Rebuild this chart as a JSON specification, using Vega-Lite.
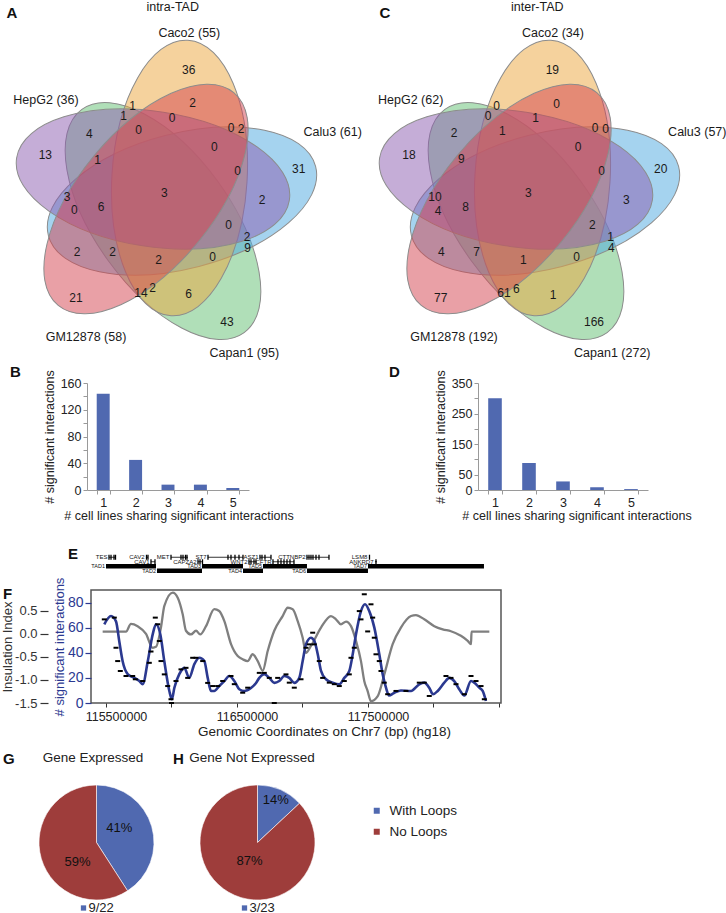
{
"$schema": "https://vega.github.io/schema/vega-lite/v6.json",
"background": "white",
"padding": 0,
"bounds": "full",
"spacing": 0,
"config": {
  "font": "Liberation Sans",
  "view": {"stroke": null},
  "axis": {"grid": false, "labelFont": "Liberation Sans", "titleFont": "Liberation Sans", "titleFontWeight": "normal", "labelColor": "#222", "titleColor": "#222", "domainColor": "#9a9a9a", "tickColor": "#9a9a9a"},
  "title": {"font": "Liberation Sans"},
  "legend": {"labelFont": "Liberation Sans"}
},
"resolve": {"scale": {"color": "independent", "fill": "independent"}},
"datasets": {
  "vennSets": [
    {"set": "Capan1", "x": 162, "y": 221, "rot": 54},
    {"set": "Calu3", "x": 181, "y": 201, "rot": 345.5},
    {"set": "Caco2", "x": 178.5, "y": 178, "rot": 273.5},
    {"set": "HepG2", "x": 152, "y": 179, "rot": 8.8},
    {"set": "GM12878", "x": 145, "y": 199, "rot": 309.5}
  ],
  "vennNumA": [
    {"x": 187.7, "y": 70, "n": 36}, {"x": 191.7, "y": 103.3, "n": 2}, {"x": 131.7, "y": 106, "n": 1}, {"x": 122.7, "y": 116, "n": 1},
    {"x": 171, "y": 118.3, "n": 0}, {"x": 137.7, "y": 130, "n": 0}, {"x": 230, "y": 128.3, "n": 0}, {"x": 240, "y": 129.3, "n": 2},
    {"x": 88.3, "y": 134.3, "n": 4}, {"x": 44.3, "y": 155, "n": 13}, {"x": 213.3, "y": 146.7, "n": 0}, {"x": 96.7, "y": 160, "n": 1},
    {"x": 297.7, "y": 169.3, "n": 31}, {"x": 236.7, "y": 171, "n": 0}, {"x": 66, "y": 197.3, "n": 3}, {"x": 163.3, "y": 192.7, "n": 3},
    {"x": 73.3, "y": 210, "n": 0}, {"x": 100, "y": 206.7, "n": 6}, {"x": 261, "y": 200, "n": 2}, {"x": 227.7, "y": 225, "n": 0},
    {"x": 246, "y": 237.3, "n": 2}, {"x": 246.7, "y": 248.3, "n": 9}, {"x": 76, "y": 251.7, "n": 2}, {"x": 111.7, "y": 251.7, "n": 2},
    {"x": 157.7, "y": 260, "n": 2}, {"x": 211.7, "y": 256.7, "n": 0}, {"x": 75, "y": 297.7, "n": 21}, {"x": 140, "y": 293.3, "n": 14},
    {"x": 151.7, "y": 288.3, "n": 2}, {"x": 187.7, "y": 294.3, "n": 6}, {"x": 226, "y": 321.7, "n": 43}
  ],
  "vennNumC": [
    {"x": 188.3, "y": 70, "n": 19}, {"x": 192.7, "y": 104, "n": 0}, {"x": 132.7, "y": 106, "n": 0}, {"x": 124, "y": 116, "n": 0},
    {"x": 171.7, "y": 118.3, "n": 1}, {"x": 138.3, "y": 130.7, "n": 1}, {"x": 231, "y": 128.3, "n": 0}, {"x": 241.7, "y": 129.3, "n": 0},
    {"x": 90, "y": 133.3, "n": 2}, {"x": 45, "y": 155, "n": 18}, {"x": 214, "y": 146.7, "n": 0}, {"x": 97.3, "y": 159.3, "n": 9},
    {"x": 296.7, "y": 169.3, "n": 20}, {"x": 237.7, "y": 170.7, "n": 0}, {"x": 71, "y": 196.7, "n": 10}, {"x": 164.3, "y": 192.7, "n": 3},
    {"x": 74, "y": 210.7, "n": 4}, {"x": 101.7, "y": 206.7, "n": 8}, {"x": 262.3, "y": 200, "n": 3}, {"x": 228.3, "y": 225, "n": 2},
    {"x": 246.7, "y": 237.3, "n": 1}, {"x": 247.3, "y": 248.3, "n": 4}, {"x": 77.3, "y": 251.7, "n": 4}, {"x": 112.7, "y": 252.3, "n": 7},
    {"x": 159.3, "y": 260, "n": 1}, {"x": 212.7, "y": 256.7, "n": 0}, {"x": 76.7, "y": 297.7, "n": 77}, {"x": 140, "y": 293.3, "n": 61},
    {"x": 152.3, "y": 289, "n": 6}, {"x": 189, "y": 295, "n": 1}, {"x": 230, "y": 321.7, "n": 166}
  ],
  "vennLabA": [
    {"x": 171.7, "y": 6.7, "label": "intra-TAD"}, {"x": 188.3, "y": 33.3, "label": "Caco2 (55)"}, {"x": 45, "y": 100, "label": "HepG2 (36)"},
    {"x": 331.7, "y": 131.7, "label": "Calu3 (61)"}, {"x": 85, "y": 336.7, "label": "GM12878 (58)"}, {"x": 243.3, "y": 353.3, "label": "Capan1 (95)"}
  ],
  "vennLabC": [
    {"x": 173.3, "y": 6.7, "label": "inter-TAD"}, {"x": 189, "y": 33.3, "label": "Caco2 (34)"}, {"x": 46.7, "y": 100, "label": "HepG2 (62)"},
    {"x": 333.3, "y": 131.7, "label": "Calu3 (57)"}, {"x": 90, "y": 336.7, "label": "GM12878 (192)"}, {"x": 248.3, "y": 353.3, "label": "Capan1 (272)"}
  ],
  "letterA": [{"x": 11, "y": 13.3, "letter": "A"}],
  "letterC": [{"x": 21, "y": 13.3, "letter": "C"}],
  "barsB": [{"k": 1, "n": 144}, {"k": 2, "n": 45}, {"k": 3, "n": 8}, {"k": 4, "n": 8}, {"k": 5, "n": 3}],
  "barsD": [{"k": 1, "n": 300}, {"k": 2, "n": 88}, {"k": 3, "n": 28}, {"k": 4, "n": 9}, {"k": 5, "n": 3}],
  "genes": [
    {"name": "TES", "start": 115522900, "end": 115576300, "lane": "g1"},
    {"name": "CAV2", "start": 115805300, "end": 115820600, "lane": "g1"},
    {"name": "MET", "start": 115996200, "end": 116126000, "lane": "g1"},
    {"name": "ST7", "start": 116278600, "end": 116545800, "lane": "g1"},
    {"name": "ASZ1", "start": 116675600, "end": 116759500, "lane": "g1"},
    {"name": "CTTNBP2", "start": 117034300, "end": 117202300, "lane": "g1"},
    {"name": "LSM8", "start": 117507600, "end": 117515300, "lane": "g1"},
    {"name": "CAV1", "start": 115843500, "end": 115874000, "lane": "g2"},
    {"name": "CAPZA2", "start": 116202300, "end": 116240500, "lane": "g2"},
    {"name": "WNT2", "start": 116591600, "end": 116645000, "lane": "g2"},
    {"name": "CFTR", "start": 116774800, "end": 116935100, "lane": "g2"},
    {"name": "ANKRD7", "start": 117553400, "end": 117568700, "lane": "g2"}
  ],
  "tads": [
    {"name": "TAD1", "start": 115500000, "end": 115881700, "lane": "t1"},
    {"name": "TAD3", "start": 116232800, "end": 116545800, "lane": "t1"},
    {"name": "TAD5", "start": 116698500, "end": 117034300, "lane": "t1"},
    {"name": "TAD7", "start": 117500000, "end": 118385500, "lane": "t1"},
    {"name": "TAD2", "start": 115889300, "end": 116232800, "lane": "t2"},
    {"name": "TAD4", "start": 116545800, "end": 116698500, "lane": "t2"},
    {"name": "TAD6", "start": 117034300, "end": 117500000, "lane": "t2"}
  ],
  "exons": [
    {"start": 115522900, "lane": "g1"}, {"start": 115538200, "lane": "g1"}, {"start": 115561100, "lane": "g1"}, {"start": 115572500, "lane": "g1"},
    {"start": 115809200, "lane": "g1"}, {"start": 115820600, "lane": "g1"},
    {"start": 115996200, "lane": "g1"}, {"start": 116072500, "lane": "g1"}, {"start": 116087800, "lane": "g1"}, {"start": 116106900, "lane": "g1"}, {"start": 116118300, "lane": "g1"},
    {"start": 116278600, "lane": "g1"}, {"start": 116431300, "lane": "g1"}, {"start": 116454200, "lane": "g1"}, {"start": 116484700, "lane": "g1"}, {"start": 116515300, "lane": "g1"}, {"start": 116545800, "lane": "g1"},
    {"start": 116675600, "lane": "g1"}, {"start": 116690800, "lane": "g1"}, {"start": 116713700, "lane": "g1"}, {"start": 116759500, "lane": "g1"},
    {"start": 117034300, "lane": "g1"}, {"start": 117049600, "lane": "g1"}, {"start": 117064900, "lane": "g1"}, {"start": 117080200, "lane": "g1"}, {"start": 117103100, "lane": "g1"}, {"start": 117126000, "lane": "g1"}, {"start": 117202300, "lane": "g1"},
    {"start": 117511500, "lane": "g1"},
    {"start": 115843500, "lane": "g2"}, {"start": 115874000, "lane": "g2"},
    {"start": 116202300, "lane": "g2"}, {"start": 116217600, "lane": "g2"}, {"start": 116236600, "lane": "g2"},
    {"start": 116591600, "lane": "g2"}, {"start": 116606900, "lane": "g2"}, {"start": 116629800, "lane": "g2"}, {"start": 116645000, "lane": "g2"},
    {"start": 116774800, "lane": "g2"}, {"start": 116813000, "lane": "g2"}, {"start": 116835900, "lane": "g2"}, {"start": 116858800, "lane": "g2"}, {"start": 116881700, "lane": "g2"}, {"start": 116904600, "lane": "g2"}, {"start": 116935100, "lane": "g2"},
    {"start": 117561100, "lane": "g2"}
  ],
  "insulation": [
    {"pos": 115474500, "ii": 0.05}, {"pos": 115652500, "ii": 0.05}, {"pos": 115690500, "ii": 0.22}, {"pos": 115741500, "ii": 0.17},
    {"pos": 115805500, "ii": 0.0}, {"pos": 115856500, "ii": -0.3}, {"pos": 115881500, "ii": -0.28}, {"pos": 115919500, "ii": 0.14},
    {"pos": 115945500, "ii": 0.61}, {"pos": 116009500, "ii": 0.9}, {"pos": 116047500, "ii": 0.79}, {"pos": 116085500, "ii": 0.43},
    {"pos": 116110500, "ii": 0.07}, {"pos": 116148500, "ii": -0.01}, {"pos": 116187500, "ii": 0.07}, {"pos": 116219500, "ii": -0.01},
    {"pos": 116263500, "ii": 0.17}, {"pos": 116326500, "ii": 0.54}, {"pos": 116364500, "ii": 0.5}, {"pos": 116403500, "ii": 0.28},
    {"pos": 116454500, "ii": -0.22}, {"pos": 116505500, "ii": -0.48}, {"pos": 116543500, "ii": -0.55}, {"pos": 116581500, "ii": -0.59},
    {"pos": 116619500, "ii": -0.44}, {"pos": 116658500, "ii": -0.59}, {"pos": 116696500, "ii": -0.8}, {"pos": 116734500, "ii": -0.37},
    {"pos": 116784500, "ii": 0.07}, {"pos": 116848500, "ii": 0.39}, {"pos": 116887500, "ii": 0.57}, {"pos": 116925500, "ii": 0.54},
    {"pos": 116963500, "ii": 0.28}, {"pos": 117001500, "ii": -0.08}, {"pos": 117026500, "ii": -0.41}, {"pos": 117064500, "ii": -0.26},
    {"pos": 117141500, "ii": 0.14}, {"pos": 117217500, "ii": 0.39}, {"pos": 117255500, "ii": 0.32}, {"pos": 117293500, "ii": 0.21},
    {"pos": 117332500, "ii": 0.27}, {"pos": 117370500, "ii": 0.17}, {"pos": 117408500, "ii": -0.15}, {"pos": 117446500, "ii": -0.59},
    {"pos": 117471500, "ii": -1.02}, {"pos": 117497500, "ii": -1.24}, {"pos": 117522500, "ii": -1.46}, {"pos": 117574500, "ii": -1.35},
    {"pos": 117624500, "ii": -0.88}, {"pos": 117688500, "ii": -0.22}, {"pos": 117751500, "ii": 0.14}, {"pos": 117828500, "ii": 0.39},
    {"pos": 117866500, "ii": 0.41}, {"pos": 117929500, "ii": 0.32}, {"pos": 118006500, "ii": 0.17}, {"pos": 118070500, "ii": 0.1},
    {"pos": 118133500, "ii": 0.06}, {"pos": 118209500, "ii": -0.04}, {"pos": 118261500, "ii": -0.15}, {"pos": 118286500, "ii": -0.22},
    {"pos": 118290500, "ii": 0.05}, {"pos": 118426500, "ii": 0.05}
  ],
  "smooth": [
    {"pos": 115487000, "c": 62.7}, {"pos": 115538200, "c": 69.3}, {"pos": 115576300, "c": 65}, {"pos": 115601500, "c": 49},
    {"pos": 115627500, "c": 33}, {"pos": 115665500, "c": 23}, {"pos": 115716500, "c": 20}, {"pos": 115754500, "c": 17.5},
    {"pos": 115780500, "c": 15}, {"pos": 115818500, "c": 33}, {"pos": 115856500, "c": 54.7}, {"pos": 115881500, "c": 62.7},
    {"pos": 115914500, "c": 54.7}, {"pos": 115945500, "c": 33}, {"pos": 115983500, "c": 9.6}, {"pos": 116003500, "c": 3},
    {"pos": 116021500, "c": 12}, {"pos": 116059500, "c": 23}, {"pos": 116097500, "c": 28}, {"pos": 116135500, "c": 20},
    {"pos": 116174500, "c": 31}, {"pos": 116212500, "c": 36}, {"pos": 116250500, "c": 33.4}, {"pos": 116276500, "c": 20},
    {"pos": 116301500, "c": 9.6}, {"pos": 116326500, "c": 9.6}, {"pos": 116364500, "c": 13.5}, {"pos": 116403500, "c": 17.5},
    {"pos": 116441500, "c": 21.5}, {"pos": 116479500, "c": 17.5}, {"pos": 116517500, "c": 11}, {"pos": 116555500, "c": 9.6},
    {"pos": 116606500, "c": 12}, {"pos": 116645500, "c": 16}, {"pos": 116670500, "c": 20}, {"pos": 116708500, "c": 23},
    {"pos": 116746500, "c": 20}, {"pos": 116784500, "c": 16}, {"pos": 116822500, "c": 17.5}, {"pos": 116861500, "c": 21.5},
    {"pos": 116899500, "c": 20}, {"pos": 116937500, "c": 16}, {"pos": 116975500, "c": 20}, {"pos": 117001500, "c": 33.4},
    {"pos": 117026500, "c": 46.7}, {"pos": 117064500, "c": 52}, {"pos": 117090500, "c": 49.4}, {"pos": 117116500, "c": 38.8},
    {"pos": 117141500, "c": 25.5}, {"pos": 117179500, "c": 18.9}, {"pos": 117230500, "c": 16.2}, {"pos": 117280500, "c": 14.9},
    {"pos": 117319500, "c": 20}, {"pos": 117357500, "c": 25.5}, {"pos": 117383500, "c": 38.8}, {"pos": 117408500, "c": 54.7},
    {"pos": 117446500, "c": 73.2}, {"pos": 117477500, "c": 78.6}, {"pos": 117509500, "c": 73.2}, {"pos": 117548500, "c": 60},
    {"pos": 117586500, "c": 38.8}, {"pos": 117612500, "c": 22.8}, {"pos": 117637500, "c": 12.2}, {"pos": 117660500, "c": 6},
    {"pos": 117698500, "c": 8}, {"pos": 117751500, "c": 10}, {"pos": 117828500, "c": 9.6}, {"pos": 117891500, "c": 14.9},
    {"pos": 117929500, "c": 16.2}, {"pos": 117967500, "c": 12.2}, {"pos": 117996500, "c": 7}, {"pos": 118032500, "c": 9.6},
    {"pos": 118082500, "c": 16.2}, {"pos": 118120500, "c": 20}, {"pos": 118158500, "c": 17.5}, {"pos": 118196500, "c": 11},
    {"pos": 118235500, "c": 6}, {"pos": 118286500, "c": 17.5}, {"pos": 118311500, "c": 16.2}, {"pos": 118349500, "c": 12.2},
    {"pos": 118375500, "c": 9.6}, {"pos": 118400500, "c": 1.6}
  ],
  "raw": [
    {"pos": 115487000, "c": 66.6}, {"pos": 115563400, "c": 68}, {"pos": 115576300, "c": 44}, {"pos": 115589300, "c": 33.4},
    {"pos": 115609200, "c": 25.5}, {"pos": 115652700, "c": 21.5}, {"pos": 115703800, "c": 21.5}, {"pos": 115723700, "c": 18.9},
    {"pos": 115780200, "c": 17.5}, {"pos": 115830500, "c": 32}, {"pos": 115843500, "c": 41}, {"pos": 115876300, "c": 68},
    {"pos": 115894700, "c": 62.7}, {"pos": 115906900, "c": 49.4}, {"pos": 115919900, "c": 33.4}, {"pos": 115945000, "c": 22.8},
    {"pos": 115971000, "c": 13.5}, {"pos": 115996200, "c": 3}, {"pos": 116000000, "c": 0}, {"pos": 116034400, "c": 17.5},
    {"pos": 116072500, "c": 26.8}, {"pos": 116110700, "c": 28}, {"pos": 116123700, "c": 20}, {"pos": 116161800, "c": 36},
    {"pos": 116187000, "c": 36}, {"pos": 116238200, "c": 33.4}, {"pos": 116276300, "c": 16}, {"pos": 116314500, "c": 13.5},
    {"pos": 116352700, "c": 13.5}, {"pos": 116390800, "c": 17.5}, {"pos": 116454200, "c": 21.5}, {"pos": 116479400, "c": 15},
    {"pos": 116543500, "c": 8.2}, {"pos": 116581700, "c": 12.2}, {"pos": 116670200, "c": 24}, {"pos": 116708400, "c": 24},
    {"pos": 116746600, "c": 20}, {"pos": 116784700, "c": 0}, {"pos": 116810700, "c": 20}, {"pos": 116874000, "c": 22.8},
    {"pos": 116899200, "c": 16.2}, {"pos": 116937400, "c": 12.2}, {"pos": 116988600, "c": 18.9}, {"pos": 117026700, "c": 44},
    {"pos": 117051900, "c": 46.7}, {"pos": 117077900, "c": 56}, {"pos": 117090100, "c": 46.7}, {"pos": 117128200, "c": 33.4},
    {"pos": 117154200, "c": 20}, {"pos": 117204600, "c": 16.2}, {"pos": 117242800, "c": 15}, {"pos": 117280900, "c": 13.5},
    {"pos": 117319100, "c": 17.5}, {"pos": 117357300, "c": 22.8}, {"pos": 117370200, "c": 36}, {"pos": 117395400, "c": 44},
    {"pos": 117433600, "c": 73.2}, {"pos": 117446600, "c": 66.6}, {"pos": 117471800, "c": 86.6}, {"pos": 117497700, "c": 57},
    {"pos": 117522900, "c": 78.6}, {"pos": 117535900, "c": 68}, {"pos": 117548100, "c": 52}, {"pos": 117561100, "c": 38.8},
    {"pos": 117586300, "c": 33.4}, {"pos": 117599200, "c": 25.5}, {"pos": 117624400, "c": 16.2}, {"pos": 117650400, "c": 7},
    {"pos": 117713700, "c": 9.6}, {"pos": 117790100, "c": 9.6}, {"pos": 117891600, "c": 16.2}, {"pos": 117929800, "c": 16.2},
    {"pos": 117967900, "c": 5.6}, {"pos": 118095400, "c": 21.5}, {"pos": 118133600, "c": 20}, {"pos": 118171800, "c": 15},
    {"pos": 118235500, "c": 7}, {"pos": 118286600, "c": 21.5}, {"pos": 118324800, "c": 17.5}, {"pos": 118363000, "c": 13.5},
    {"pos": 118388200, "c": 3}
  ],
  "pieG": [{"series": "With Loops", "n": 9, "pct": "41%"}, {"series": "No Loops", "n": 13, "pct": "59%"}],
  "pieH": [{"series": "With Loops", "n": 3, "pct": "14%"}, {"series": "No Loops", "n": 20, "pct": "87%"}],
  "captionG": [{"caption": "9/22"}],
  "captionH": [{"caption": "3/23"}]
},
"vconcat": [
  {"hconcat": [
    {"width": 363, "height": 365, "layer": [
      {"data": {"name": "vennSets"}, "mark": {"type": "point", "shape": "M -1 0 C -1 -0.2706 -0.5523 -0.49 0 -0.49 C 0.5523 -0.49 1 -0.2706 1 0 C 1 0.2706 0.5523 0.49 0 0.49 C -0.5523 0.49 -1 0.2706 -1 0 Z", "size": 76176, "filled": true, "opacity": 1, "fillOpacity": 0.5, "stroke": "#8c8c8c", "strokeWidth": 1},
       "encoding": {"x": {"field": "x", "type": "quantitative", "scale": {"domain": [0, 363], "nice": false, "zero": false}, "axis": null},
                    "y": {"field": "y", "type": "quantitative", "scale": {"domain": [0, 365], "reverse": true, "nice": false, "zero": false}, "axis": null},
                    "fill": {"field": "set", "type": "nominal", "scale": {"domain": ["HepG2", "Caco2", "Calu3", "Capan1", "GM12878"], "range": ["#8B5CAF", "#EBA53C", "#4BA7E0", "#62BF72", "#D4414E"]}, "legend": null},
                    "angle": {"field": "rot", "type": "quantitative", "scale": null}}},
      {"data": {"name": "vennNumA"}, "mark": {"type": "text", "fontSize": 12, "color": "#1a1a1a"},
       "encoding": {"x": {"field": "x", "type": "quantitative", "scale": {"domain": [0, 363], "nice": false, "zero": false}, "axis": null},
                    "y": {"field": "y", "type": "quantitative", "scale": {"domain": [0, 365], "reverse": true, "nice": false, "zero": false}, "axis": null},
                    "text": {"field": "n", "type": "nominal"}}},
      {"data": {"name": "vennLabA"}, "mark": {"type": "text", "fontSize": 12.5, "color": "#1a1a1a"},
       "encoding": {"x": {"field": "x", "type": "quantitative", "scale": {"domain": [0, 363], "nice": false, "zero": false}, "axis": null},
                    "y": {"field": "y", "type": "quantitative", "scale": {"domain": [0, 365], "reverse": true, "nice": false, "zero": false}, "axis": null},
                    "text": {"field": "label", "type": "nominal"}}},
      {"data": {"name": "letterA"}, "mark": {"type": "text", "fontSize": 15, "fontWeight": "bold", "color": "#111"},
       "encoding": {"x": {"field": "x", "type": "quantitative", "scale": {"domain": [0, 363], "nice": false, "zero": false}, "axis": null},
                    "y": {"field": "y", "type": "quantitative", "scale": {"domain": [0, 365], "reverse": true, "nice": false, "zero": false}, "axis": null},
                    "text": {"field": "letter", "type": "nominal"}}}
    ]},
    {"width": 363, "height": 365, "layer": [
      {"data": {"name": "vennSets"}, "mark": {"type": "point", "shape": "M -1 0 C -1 -0.2706 -0.5523 -0.49 0 -0.49 C 0.5523 -0.49 1 -0.2706 1 0 C 1 0.2706 0.5523 0.49 0 0.49 C -0.5523 0.49 -1 0.2706 -1 0 Z", "size": 76176, "filled": true, "opacity": 1, "fillOpacity": 0.5, "stroke": "#8c8c8c", "strokeWidth": 1},
       "encoding": {"x": {"field": "x", "type": "quantitative", "scale": {"domain": [0, 363], "nice": false, "zero": false}, "axis": null},
                    "y": {"field": "y", "type": "quantitative", "scale": {"domain": [0, 365], "reverse": true, "nice": false, "zero": false}, "axis": null},
                    "fill": {"field": "set", "type": "nominal", "scale": {"domain": ["HepG2", "Caco2", "Calu3", "Capan1", "GM12878"], "range": ["#8B5CAF", "#EBA53C", "#4BA7E0", "#62BF72", "#D4414E"]}, "legend": null},
                    "angle": {"field": "rot", "type": "quantitative", "scale": null}}},
      {"data": {"name": "vennNumC"}, "mark": {"type": "text", "fontSize": 12, "color": "#1a1a1a"},
       "encoding": {"x": {"field": "x", "type": "quantitative", "scale": {"domain": [0, 363], "nice": false, "zero": false}, "axis": null},
                    "y": {"field": "y", "type": "quantitative", "scale": {"domain": [0, 365], "reverse": true, "nice": false, "zero": false}, "axis": null},
                    "text": {"field": "n", "type": "nominal"}}},
      {"data": {"name": "vennLabC"}, "mark": {"type": "text", "fontSize": 12.5, "color": "#1a1a1a"},
       "encoding": {"x": {"field": "x", "type": "quantitative", "scale": {"domain": [0, 363], "nice": false, "zero": false}, "axis": null},
                    "y": {"field": "y", "type": "quantitative", "scale": {"domain": [0, 365], "reverse": true, "nice": false, "zero": false}, "axis": null},
                    "text": {"field": "label", "type": "nominal"}}},
      {"data": {"name": "letterC"}, "mark": {"type": "text", "fontSize": 15, "fontWeight": "bold", "color": "#111"},
       "encoding": {"x": {"field": "x", "type": "quantitative", "scale": {"domain": [0, 363], "nice": false, "zero": false}, "axis": null},
                    "y": {"field": "y", "type": "quantitative", "scale": {"domain": [0, 365], "reverse": true, "nice": false, "zero": false}, "axis": null},
                    "text": {"field": "letter", "type": "nominal"}}}
    ]}
  ], "spacing": 0, "bounds": "flush"},
  {"hconcat": [
    {"width": 86, "height": 163, "data": {"values": [{}]}, "mark": {"type": "rect", "opacity": 0},
     "title": {"text": "B", "anchor": "start", "frame": "group", "dx": 9, "offset": -9, "fontSize": 15, "fontWeight": "bold", "baseline": "alphabetic", "color": "#111"}},
    {"width": 162, "height": 107, "data": {"name": "barsB"},
     "mark": {"type": "bar", "color": "#5069B0"},
     "encoding": {
       "x": {"field": "k", "type": "ordinal", "scale": {"paddingInner": 0.6, "paddingOuter": 0.3}, "axis": {"title": "# cell lines sharing significant interactions", "titleX": 91.5, "labelAngle": 0, "tickBand": "extent", "tickSize": 4, "labelFontSize": 12.5, "labelPadding": 2, "titleFontSize": 12.5, "titlePadding": 1}},
       "y": {"field": "n", "type": "quantitative", "scale": {"domain": [0, 160], "nice": false}, "axis": {"title": "# significant interactions", "values": [0, 20, 40, 60, 80, 100, 120, 140, 160], "labelExpr": "datum.value % 40 == 0 ? datum.label : ''", "tickSize": 4, "labelFontSize": 12.5, "labelPadding": 2, "titleFontSize": 12.5, "titlePadding": 4}}
     }},
    {"width": 229, "height": 163, "data": {"values": [{}]}, "mark": {"type": "rect", "opacity": 0},
     "title": {"text": "D", "anchor": "start", "frame": "group", "dx": 140, "offset": -9, "fontSize": 15, "fontWeight": "bold", "baseline": "alphabetic", "color": "#111"}},
    {"width": 170, "height": 107, "data": {"name": "barsD"},
     "mark": {"type": "bar", "color": "#5069B0"},
     "encoding": {
       "x": {"field": "k", "type": "ordinal", "scale": {"paddingInner": 0.6, "paddingOuter": 0.3}, "axis": {"title": "# cell lines sharing significant interactions", "titleX": 98.5, "labelAngle": 0, "tickBand": "extent", "tickSize": 4, "labelFontSize": 12.5, "labelPadding": 2, "titleFontSize": 12.5, "titlePadding": 1}},
       "y": {"field": "n", "type": "quantitative", "scale": {"domain": [0, 350], "nice": false}, "axis": {"title": "# significant interactions", "values": [0, 50, 100, 150, 200, 250, 300, 350], "labelExpr": "datum.value == 0 || datum.value % 100 == 50 ? datum.label : ''", "tickSize": 4, "labelFontSize": 12.5, "labelPadding": 2, "titleFontSize": 12.5, "titlePadding": 4}}
     }}
  ], "spacing": 0, "bounds": "flush"},
  {"hconcat": [
    {"width": 90, "height": 30, "data": {"values": [{}]}, "mark": {"type": "rect", "opacity": 0},
     "title": {"text": "E", "anchor": "start", "frame": "group", "dx": 67, "offset": -28, "fontSize": 15, "fontWeight": "bold", "baseline": "alphabetic", "color": "#111"}},
    {"width": 410, "height": 28,
     "layer": [
       {"data": {"name": "genes"}, "mark": {"type": "rule", "strokeWidth": 0.8, "color": "#000"},
        "encoding": {"x": {"field": "start", "type": "quantitative", "scale": {"domain": [115385500, 118515500], "nice": false, "zero": false}, "axis": null}, "x2": {"field": "end"},
                     "y": {"field": "lane", "type": "nominal", "scale": {"type": "point", "domain": ["g1", "g2", "t1", "t2"], "range": [9, 27]}, "axis": null}}},
       {"data": {"name": "exons"}, "mark": {"type": "tick", "orient": "vertical", "size": 5, "thickness": 1.3, "color": "#000", "opacity": 1},
        "encoding": {"x": {"field": "start", "type": "quantitative", "scale": {"domain": [115385500, 118515500], "nice": false, "zero": false}, "axis": null},
                     "y": {"field": "lane", "type": "nominal", "scale": {"type": "point", "domain": ["g1", "g2", "t1", "t2"], "range": [9, 27]}, "axis": null}}},
       {"data": {"name": "genes"}, "mark": {"type": "text", "fontSize": 6, "align": "right", "dx": -1.5, "baseline": "middle", "color": "#111"},
        "encoding": {"x": {"field": "start", "type": "quantitative", "scale": {"domain": [115385500, 118515500], "nice": false, "zero": false}, "axis": null},
                     "y": {"field": "lane", "type": "nominal", "scale": {"type": "point", "domain": ["g1", "g2", "t1", "t2"], "range": [9, 27]}, "axis": null},
                     "text": {"field": "name"}}},
       {"data": {"name": "tads"}, "mark": {"type": "rule", "strokeWidth": 4.5, "color": "#000", "strokeCap": "butt"},
        "encoding": {"x": {"field": "start", "type": "quantitative", "scale": {"domain": [115385500, 118515500], "nice": false, "zero": false}, "axis": null}, "x2": {"field": "end"},
                     "y": {"field": "lane", "type": "nominal", "scale": {"type": "point", "domain": ["g1", "g2", "t1", "t2"], "range": [9, 27]}, "axis": null}}},
       {"data": {"name": "tads"}, "mark": {"type": "text", "fontSize": 5.5, "align": "right", "dx": -1, "baseline": "middle", "color": "#111"},
        "encoding": {"x": {"field": "start", "type": "quantitative", "scale": {"domain": [115385500, 118515500], "nice": false, "zero": false}, "axis": null},
                     "y": {"field": "lane", "type": "nominal", "scale": {"type": "point", "domain": ["g1", "g2", "t1", "t2"], "range": [9, 27]}, "axis": null},
                     "text": {"field": "name"}}}
     ]}
  ], "spacing": 0, "bounds": "flush"},
  {"hconcat": [
    {"width": 90, "height": 160, "data": {"values": [{}]}, "mark": {"type": "rect", "opacity": 0},
     "title": {"text": "F", "anchor": "start", "frame": "group", "dx": 2, "offset": -24, "fontSize": 15, "fontWeight": "bold", "baseline": "alphabetic", "color": "#111"}},
    {"width": 410, "height": 113,
     "view": {"stroke": "#555", "strokeWidth": 1.5},
     "layer": [
       {"data": {"name": "insulation"}, "mark": {"type": "line", "color": "#7f7f7f", "strokeWidth": 2.3, "interpolate": "monotone"},
        "encoding": {
          "x": {"field": "pos", "type": "quantitative", "scale": {"domain": [115385500, 118515500], "nice": false, "zero": false},
                "axis": {"orient": "bottom", "values": [115500000, 116000000, 116500000, 117000000, 117500000, 118000000, 118500000], "format": "d", "labelExpr": "datum.value % 1000000 == 500000 && datum.value < 118000000 ? datum.label : ''", "labelOffset": 10, "tickSize": 4, "tickColor": "#333", "domain": false, "labelFontSize": 12.5, "labelPadding": 3, "title": "Genomic Coordinates on Chr7 (bp) (hg18)", "titleFontSize": 13.5, "titlePadding": 2, "titleX": 233}},
          "y": {"field": "ii", "type": "quantitative", "scale": {"domain": [-1.5, 0.956], "nice": false, "zero": false},
                "axis": {"orient": "left", "offset": 43, "values": [-1.5, -1, -0.5, 0, 0.5], "format": ".1f", "labelExpr": "replace(datum.label, '\u2212', '-')", "domain": false, "tickSize": 8, "tickWidth": 1.2, "tickColor": "#333", "labelColor": "#333", "labelFontSize": 13, "labelPadding": 3, "title": "Insulation Index", "titleFontSize": 13, "titleColor": "#333", "titlePadding": 0}}
        }},
       {"data": {"name": "smooth"}, "mark": {"type": "line", "color": "#2B3990", "strokeWidth": 2.6, "interpolate": "monotone"},
        "encoding": {
          "x": {"field": "pos", "type": "quantitative", "scale": {"domain": [115385500, 118515500], "nice": false, "zero": false},
                "axis": {"orient": "bottom", "values": [115500000, 116000000, 116500000, 117000000, 117500000, 118000000, 118500000], "format": "d", "labelExpr": "datum.value % 1000000 == 500000 && datum.value < 118000000 ? datum.label : ''", "labelOffset": 10, "tickSize": 4, "tickColor": "#333", "domain": false, "labelFontSize": 12.5, "labelPadding": 3, "title": "Genomic Coordinates on Chr7 (bp) (hg18)", "titleFontSize": 13.5, "titlePadding": 2, "titleX": 233}},
          "y": {"field": "c", "type": "quantitative", "scale": {"domain": [0, 90], "nice": false},
                "axis": {"orient": "left", "offset": 0, "values": [0, 20, 40, 60, 80], "domain": false, "tickSize": 6, "tickWidth": 1.2, "tickColor": "#2B3990", "labelColor": "#2B3990", "labelFontSize": 14, "labelPadding": 2, "title": "# significant interactions", "titleColor": "#2B3990", "titleFontSize": 13, "titlePadding": 1}}
        }},
       {"data": {"name": "raw"}, "mark": {"type": "tick", "orient": "horizontal", "size": 5, "thickness": 2, "color": "#000", "opacity": 1},
        "encoding": {
          "x": {"field": "pos", "type": "quantitative", "scale": {"domain": [115385500, 118515500], "nice": false, "zero": false},
                "axis": {"orient": "bottom", "values": [115500000, 116000000, 116500000, 117000000, 117500000, 118000000, 118500000], "format": "d", "labelExpr": "datum.value % 1000000 == 500000 && datum.value < 118000000 ? datum.label : ''", "labelOffset": 10, "tickSize": 4, "tickColor": "#333", "domain": false, "labelFontSize": 12.5, "labelPadding": 3, "title": "Genomic Coordinates on Chr7 (bp) (hg18)", "titleFontSize": 13.5, "titlePadding": 2, "titleX": 233}},
          "y": {"field": "c", "type": "quantitative", "scale": {"domain": [0, 90], "nice": false}, "axis": null}
        }}
     ],
     "resolve": {"scale": {"y": "independent"}}}
  ], "spacing": 0, "bounds": "flush"},
  {"hconcat": [
    {"width": 38, "height": 115, "data": {"values": [{}]}, "mark": {"type": "rect", "opacity": 0},
     "title": {"text": "G", "anchor": "start", "frame": "group", "dx": 2, "offset": 6.5, "fontSize": 15, "fontWeight": "bold", "baseline": "alphabetic", "color": "#111"}},
    {"width": 115, "height": 115, "data": {"name": "pieG"},
     "title": {"text": "Gene Expressed", "anchor": "middle", "frame": "group", "dx": -3.5, "offset": 8.5, "fontSize": 13.5, "fontWeight": "normal", "baseline": "alphabetic", "color": "#222"},
     "layer": [
       {"mark": {"type": "arc", "stroke": "#fff", "strokeWidth": 0.6},
        "encoding": {"theta": {"field": "n", "type": "quantitative", "stack": true}, "order": {"field": "series", "sort": "descending"},
                     "color": {"field": "series", "type": "nominal", "scale": {"domain": ["With Loops", "No Loops"], "range": ["#5069B0", "#9E3D3B"]}, "legend": null}}},
       {"mark": {"type": "text", "radius": 28, "fontSize": 13, "color": "#111", "dx": -4, "dy": -7},
        "encoding": {"theta": {"field": "n", "type": "quantitative", "stack": true}, "order": {"field": "series", "sort": "descending"},
                     "text": {"condition": {"test": "datum.series == 'With Loops'", "field": "pct"}, "value": ""}}},
       {"mark": {"type": "text", "radius": 28, "fontSize": 13, "color": "#111", "dx": 8, "dy": 12},
        "encoding": {"theta": {"field": "n", "type": "quantitative", "stack": true}, "order": {"field": "series", "sort": "descending"},
                     "text": {"condition": {"test": "datum.series == 'No Loops'", "field": "pct"}, "value": ""}}}
     ]},
    {"width": 46, "height": 115, "data": {"values": [{}]}, "mark": {"type": "rect", "opacity": 0},
     "title": {"text": "H", "anchor": "start", "frame": "group", "dx": 19, "offset": 6.5, "fontSize": 15, "fontWeight": "bold", "baseline": "alphabetic", "color": "#111"}},
    {"width": 115, "height": 115, "data": {"name": "pieH"},
     "title": {"text": "Gene Not Expressed", "anchor": "middle", "frame": "group", "dx": -5.5, "offset": 8.5, "fontSize": 13.5, "fontWeight": "normal", "baseline": "alphabetic", "color": "#222"},
     "layer": [
       {"mark": {"type": "arc", "stroke": "#fff", "strokeWidth": 0.6},
        "encoding": {"theta": {"field": "n", "type": "quantitative", "stack": true}, "order": {"field": "series", "sort": "descending"},
                     "color": {"field": "series", "type": "nominal", "scale": {"domain": ["With Loops", "No Loops"], "range": ["#5069B0", "#9E3D3B"]},
                               "legend": {"orient": "none", "legendX": 170, "legendY": 19, "title": null, "symbolType": "square", "symbolSize": 36, "labelFontSize": 13.5, "labelOffset": 6, "rowPadding": 6, "labelColor": "#222", "symbolStrokeWidth": 0}}}},
       {"mark": {"type": "text", "radius": 46, "fontSize": 13, "color": "#111"},
        "encoding": {"theta": {"field": "n", "type": "quantitative", "stack": true}, "order": {"field": "series", "sort": "descending"},
                     "text": {"condition": {"test": "datum.series == 'With Loops'", "field": "pct"}, "value": ""}}},
       {"mark": {"type": "text", "radius": 20, "fontSize": 13, "color": "#111"},
        "encoding": {"theta": {"field": "n", "type": "quantitative", "stack": true}, "order": {"field": "series", "sort": "descending"},
                     "text": {"condition": {"test": "datum.series == 'No Loops'", "field": "pct"}, "value": ""}}}
     ]}
  ], "spacing": 0, "bounds": "flush", "resolve": {"scale": {"color": "independent", "theta": "independent"}}},
  {"hconcat": [
    {"width": 38, "height": 16, "data": {"values": [{}]}, "mark": {"type": "rect", "opacity": 0}},
    {"width": 115, "height": 16, "data": {"name": "captionG"}, "layer": [
      {"mark": {"type": "point", "shape": "square", "filled": true, "size": 28, "color": "#5069B0", "opacity": 1}, "encoding": {"xOffset": {"value": -13}, "yOffset": {"value": -2}}},
      {"mark": {"type": "text", "align": "left", "dx": -8, "dy": -2, "fontSize": 13, "color": "#222"}, "encoding": {"text": {"field": "caption"}}}
    ]},
    {"width": 46, "height": 16, "data": {"values": [{}]}, "mark": {"type": "rect", "opacity": 0}},
    {"width": 115, "height": 16, "data": {"name": "captionH"}, "layer": [
      {"mark": {"type": "point", "shape": "square", "filled": true, "size": 28, "color": "#5069B0", "opacity": 1}, "encoding": {"xOffset": {"value": -13}, "yOffset": {"value": -2}}},
      {"mark": {"type": "text", "align": "left", "dx": -8, "dy": -2, "fontSize": 13, "color": "#222"}, "encoding": {"text": {"field": "caption"}}}
    ]}
  ], "spacing": 0, "bounds": "flush"}
]
}
